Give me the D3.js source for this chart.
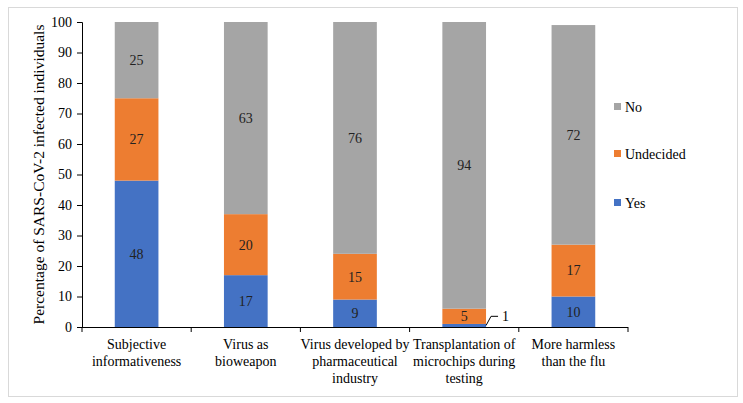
<!DOCTYPE html>
<html lang="en">
  <head>
    <meta charset="utf-8">
    <title>SARS-CoV-2 stacked bars</title>
    <style>
      body { margin: 0; background: #fff; }
      text { font-family: "Liberation Serif", "DejaVu Serif", serif; }
    </style>
  </head>
  <body>
    <svg width="743" height="403"></svg>
    <script src="https://cdn.jsdelivr.net/npm/d3@7/dist/d3.min.js"></script>
    <script>
      // data
      const categories = [
        'Subjective informativeness',
        'Virus as bioweapon',
        'Virus developed by pharmaceutical industry',
        'Transplantation of microchips during testing',
        'More harmless than the flu'
      ];
      const cat_lines = [
        ['Subjective', 'informativeness'],
        ['Virus as', 'bioweapon'],
        ['Virus developed by', 'pharmaceutical', 'industry'],
        ['Transplantation of', 'microchips during', 'testing'],
        ['More harmless', 'than the flu']
      ];
      const yes_vals = [48, 17, 9, 1, 10];
      const undecided_vals = [27, 20, 15, 5, 17];
      const no_vals = [25, 63, 76, 94, 72];
      const series_keys = ['Yes', 'Undecided', 'No'];
      const series_colors = ['#4472C4', '#ED7D31', '#A5A5A5'];
      const y_ticks = [0, 10, 20, 30, 40, 50, 60, 70, 80, 90, 100];

      const svg = d3.select('svg');
      const margin = {top: 22, right: 115, bottom: 76, left: 82};
      const svg_width = +svg.attr('width');
      const svg_height = +svg.attr('height');
      const fs = 14;

      // outer frame
      svg.append('rect')
        .attr('x', 8.5).attr('y', 7.5)
        .attr('width', 729).attr('height', 389)
        .attr('fill', 'none')
        .attr('stroke', '#d9d9d9');

      const rows = categories.map((c, i) => ({
        cat: c, Yes: yes_vals[i], Undecided: undecided_vals[i], No: no_vals[i]
      }));
      const data_stack = d3.stack().keys(series_keys)(rows);

      const x_scale = d3.scaleBand()
        .domain(categories)
        .range([margin.left, svg_width - margin.right])
        .paddingInner(0.6)
        .paddingOuter(0.3);
      const y_scale = d3.scaleLinear()
        .domain([0, 100])
        .range([svg_height - margin.bottom, margin.top]);

      // bars
      const groups = svg.append('g').selectAll('g')
        .data(data_stack).enter()
        .append('g')
        .attr('fill', (d, i) => series_colors[i]);
      groups.selectAll('rect')
        .data(d => d).enter()
        .append('rect')
        .attr('x', d => x_scale(d.data.cat))
        .attr('y', d => y_scale(d[1]))
        .attr('height', d => y_scale(d[0]) - y_scale(d[1]))
        .attr('width', x_scale.bandwidth());

      // value labels
      const label_g = svg.append('g');
      data_stack.forEach(s => {
        s.forEach(d => {
          const v = d[1] - d[0];
          const cx = x_scale(d.data.cat) + x_scale.bandwidth() / 2;
          if (v < 3) {
            // leader line for small segment
            const x0 = x_scale(d.data.cat) + x_scale.bandwidth();
            const y0 = y_scale((d[0] + d[1]) / 2);
            const yl = y_scale(3.5);
            label_g.append('path')
              .attr('d', `M${x0},${y0}L${x0 + 5},${yl}L${x0 + 12},${yl}`)
              .attr('fill', 'none').attr('stroke', '#000').attr('stroke-width', 1);
            label_g.append('text')
              .attr('x', x0 + 16).attr('y', yl)
              .attr('dy', '0.35em')
              .attr('font-size', fs)
              .text(v);
          } else {
            label_g.append('text')
              .attr('x', cx)
              .attr('y', y_scale((d[0] + d[1]) / 2))
              .attr('dy', '0.35em')
              .attr('text-anchor', 'middle')
              .attr('font-size', fs)
              .attr('fill', '#222')
              .text(v);
          }
        });
      });

      // y axis
      const y_axis = d3.axisLeft(y_scale).tickValues(y_ticks).tickSize(5).tickPadding(5);
      const y_g = svg.append('g')
        .attr('transform', `translate(${margin.left},0)`)
        .call(y_axis);
      y_g.selectAll('text').attr('font-size', fs).attr('fill', '#000');

      // x axis: ticks at band boundaries
      const x_g = svg.append('g');
      const [r0, r1] = x_scale.range();
      x_g.append('line')
        .attr('x1', r0).attr('x2', r1)
        .attr('y1', y_scale(0) + 0.5).attr('y2', y_scale(0) + 0.5)
        .attr('stroke', '#000');
      d3.range(categories.length + 1).forEach(i => {
        const xt = r0 + i * (r1 - r0) / categories.length;
        x_g.append('line')
          .attr('x1', xt).attr('x2', xt)
          .attr('y1', y_scale(0)).attr('y2', y_scale(0) + 5)
          .attr('stroke', '#000');
      });
      categories.forEach((c, i) => {
        const cx = x_scale(c) + x_scale.bandwidth() / 2;
        const t = x_g.append('text')
          .attr('x', cx)
          .attr('y', y_scale(0) + 22)
          .attr('text-anchor', 'middle')
          .attr('font-size', fs);
        cat_lines[i].forEach((ln, j) => {
          t.append('tspan').attr('x', cx).attr('dy', j === 0 ? 0 : 17).text(ln);
        });
      });

      // y axis title
      svg.append('text')
        .attr('transform', `translate(44,${(y_scale(0) + y_scale(100)) / 2}) rotate(-90)`)
        .attr('text-anchor', 'middle')
        .attr('font-size', 15.5)
        .text('Percentage of SARS-CoV-2 infected individuals');

      // legend
      const legend_y = [203, 154, 107];
      const legend = svg.append('g');
      series_keys.forEach((k, i) => {
        legend.append('rect')
          .attr('x', 614).attr('y', legend_y[i] - 4)
          .attr('width', 7).attr('height', 7)
          .attr('fill', series_colors[i]);
        legend.append('text')
          .attr('x', 625).attr('y', legend_y[i])
          .attr('dy', '0.35em')
          .attr('font-size', fs)
          .text(k);
      });
    </script>
  </body>
</html>
